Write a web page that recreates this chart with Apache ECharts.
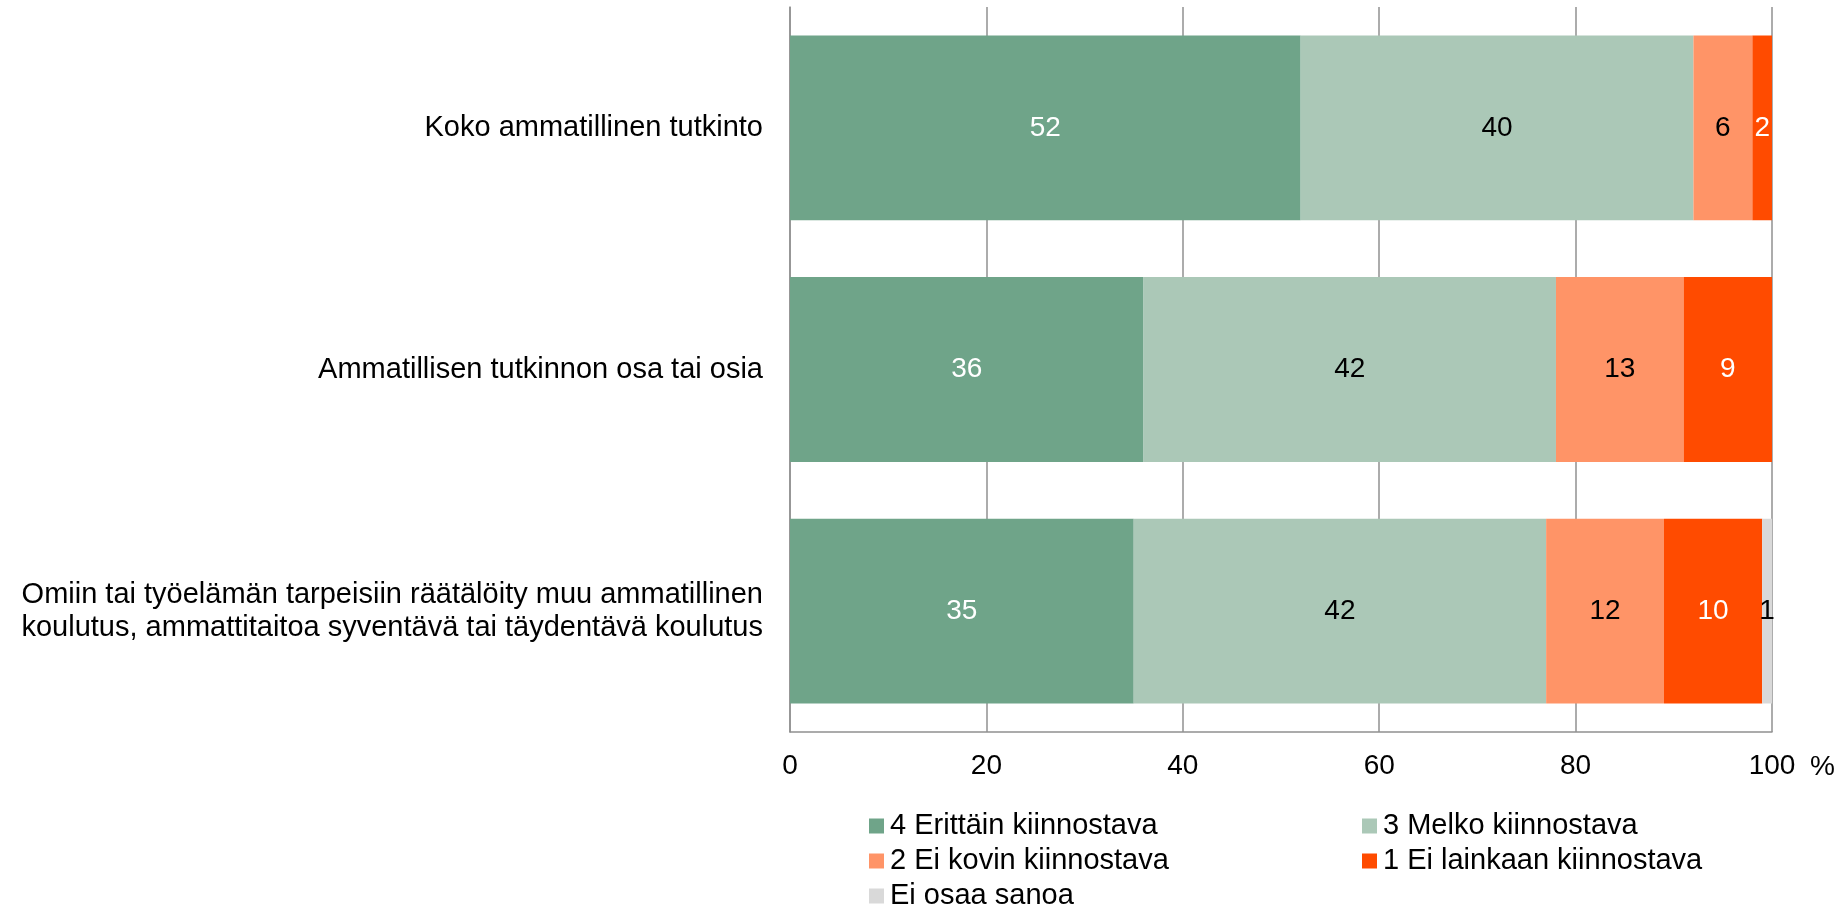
<!DOCTYPE html>
<html>
<head>
<meta charset="utf-8">
<script src="https://cdn.jsdelivr.net/npm/echarts@6/dist/echarts.min.js"></script>
<style>
html,body{margin:0;padding:0;background:#fff;}
#chart{width:1846px;height:908px;}
</style>
</head>
<body>
<div id="chart"></div>
<script>
const categories = [
  'Koko ammatillinen tutkinto',
  'Ammatillisen tutkinnon osa tai osia',
  'Omiin tai työelämän tarpeisiin räätälöity muu ammatillinen\nkoulutus, ammattitaitoa syventävä tai täydentävä koulutus'
];
const seriesNames = [
  '4 Erittäin kiinnostava',
  '3 Melko kiinnostava',
  '2 Ei kovin kiinnostava',
  '1 Ei lainkaan kiinnostava',
  'Ei osaa sanoa'
];
const erittain = [52, 36, 35];
const melko = [40, 42, 42];
const eiKovin = [6, 13, 12];
const eiLainkaan = [2, 9, 10];
const eiOsaa = [0, 0, 1];
const xTicks = [0, 20, 40, 60, 80, 100];

const colors = ['#6FA489', '#ABC8B7', '#FF9467', '#FF4B00', '#D9D9D9'];
const labelColors = ['#ffffff', '#000000', '#000000', '#ffffff', '#000000'];
const values = [erittain, melko, eiKovin, eiLainkaan, eiOsaa];
const FONT = "'Liberation Sans', Arial, sans-serif";

const chart = echarts.init(document.getElementById('chart'));

const series = seriesNames.map((name, i) => ({
  name: name,
  type: 'bar',
  stack: 'total',
  barCategoryGap: '23.5%',
  data: values[i],
  itemStyle: { color: colors[i] },
  label: {
    show: true,
    position: 'inside',
    color: labelColors[i],
    fontFamily: FONT,
    fontSize: 28,
    formatter: p => (p.value === 0 ? '' : String(p.value))
  },
  emphasis: { disabled: true },
  animation: false
}));

const legendPos = [
  { left: 869, top: 811 },
  { left: 1362, top: 811 },
  { left: 869, top: 846 },
  { left: 1362, top: 846 },
  { left: 869, top: 881 }
];
const legends = seriesNames.map((name, i) => ({
  data: [name],
  left: legendPos[i].left,
  top: legendPos[i].top,
  padding: 0,
  itemWidth: 15,
  itemHeight: 15,
  itemGap: 0,
  icon: 'rect',
  textStyle: { fontFamily: FONT, fontSize: 29, color: '#000', padding: [0, 0, 0, 1], lineHeight: 30 },
  selectedMode: false
}));

const gridLine = { color: '#909090', width: 1.5 };

chart.setOption({
  backgroundColor: '#ffffff',
  animation: false,
  grid: { left: 790, right: 74, top: 7, bottom: 176 },
  legend: legends,
  xAxis: {
    type: 'value',
    min: xTicks[0],
    max: xTicks[xTicks.length - 1],
    interval: xTicks[1] - xTicks[0],
    name: '%',
    nameLocation: 'end',
    nameGap: 38,
    nameTextStyle: { fontFamily: FONT, fontSize: 28, color: '#000', verticalAlign: 'top', padding: [21, 0, 0, 0] },
    axisLine: { show: true, lineStyle: gridLine },
    axisTick: { show: false },
    axisLabel: { fontFamily: FONT, fontSize: 28, color: '#000', margin: 20 },
    splitLine: { show: true, lineStyle: gridLine }
  },
  yAxis: {
    type: 'category',
    data: categories,
    inverse: true,
    axisLine: { show: true, lineStyle: gridLine },
    axisTick: { show: false },
    axisLabel: { fontFamily: FONT, fontSize: 29, color: '#000', margin: 27, lineHeight: 33, align: 'right' }
  },
  series: series
});
</script>
</body>
</html>
